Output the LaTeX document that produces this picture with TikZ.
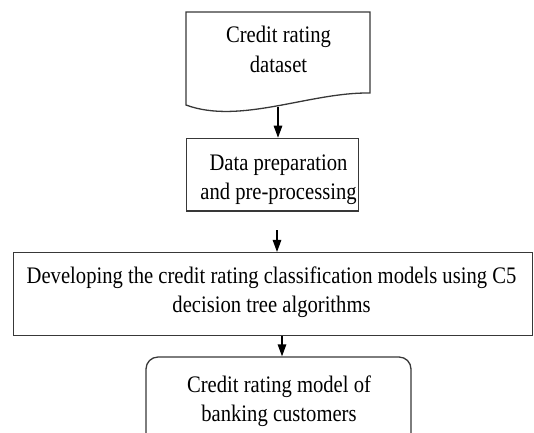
\documentclass[tikz,border=0pt]{standalone}
\usepackage{fontspec}
\setmainfont[FakeStretch=0.87]{Liberation Serif}
\usetikzlibrary{arrows.meta}
\begin{document}
\begin{tikzpicture}[x=1pt,y=-1pt,
  outline/.style={draw=black!78,line width=1.3pt},
  boxnode/.style={outline,rectangle,inner sep=0pt},
  txt/.style={align=center,inner sep=0pt,anchor=base,font=\fontsize{23.7pt}{29.5pt}\selectfont},
  arr/.style={draw=black,line width=1.3pt,-{Triangle[length=12pt,width=8.5pt]}}]
\useasboundingbox (0,0) rectangle (534,432);
\clip (0,0) rectangle (534,432);
% document shape
\draw[outline] (186,105) -- (186,12) -- (370,12) -- (370,93)
  .. controls (310,92) and (240,125) .. (186,105) -- cycle;
\node[txt] (dataset) at (278.5,72) {Credit rating\\dataset};
\coordinate (docb) at (278,107);
% preparation box
\node[boxnode,minimum width=171.6pt,minimum height=72.7pt] (prep) at (272.5,174.7) {};
\node[txt] (preptxt) at (278.5,199.5) {Data preparation\\and pre-processing};
% development box
\node[boxnode,minimum width=519.4pt,minimum height=83.2pt] (dev) at (273,294.2) {};
\node[txt] (devtxt) at (271.5,312.5) {Developing the credit rating classification models using C5\\decision tree algorithms};
% model box
\node[boxnode,rounded corners=12pt,minimum width=265pt,minimum height=103pt] (model) at (278.5,408.5) {};
\node[txt] (modeltxt) at (279,421.5) {Credit rating model of\\banking customers};
% connectors
\coordinate (a2s) at (277,230);
\coordinate (a3) at (282,0);
\draw[arr] (docb) -- (prep.north -| docb);
\draw[arr] (a2s) -- (dev.north -| a2s);
\draw[arr] (dev.south -| a3) -- (model.north -| a3);
\end{tikzpicture}
\end{document}
